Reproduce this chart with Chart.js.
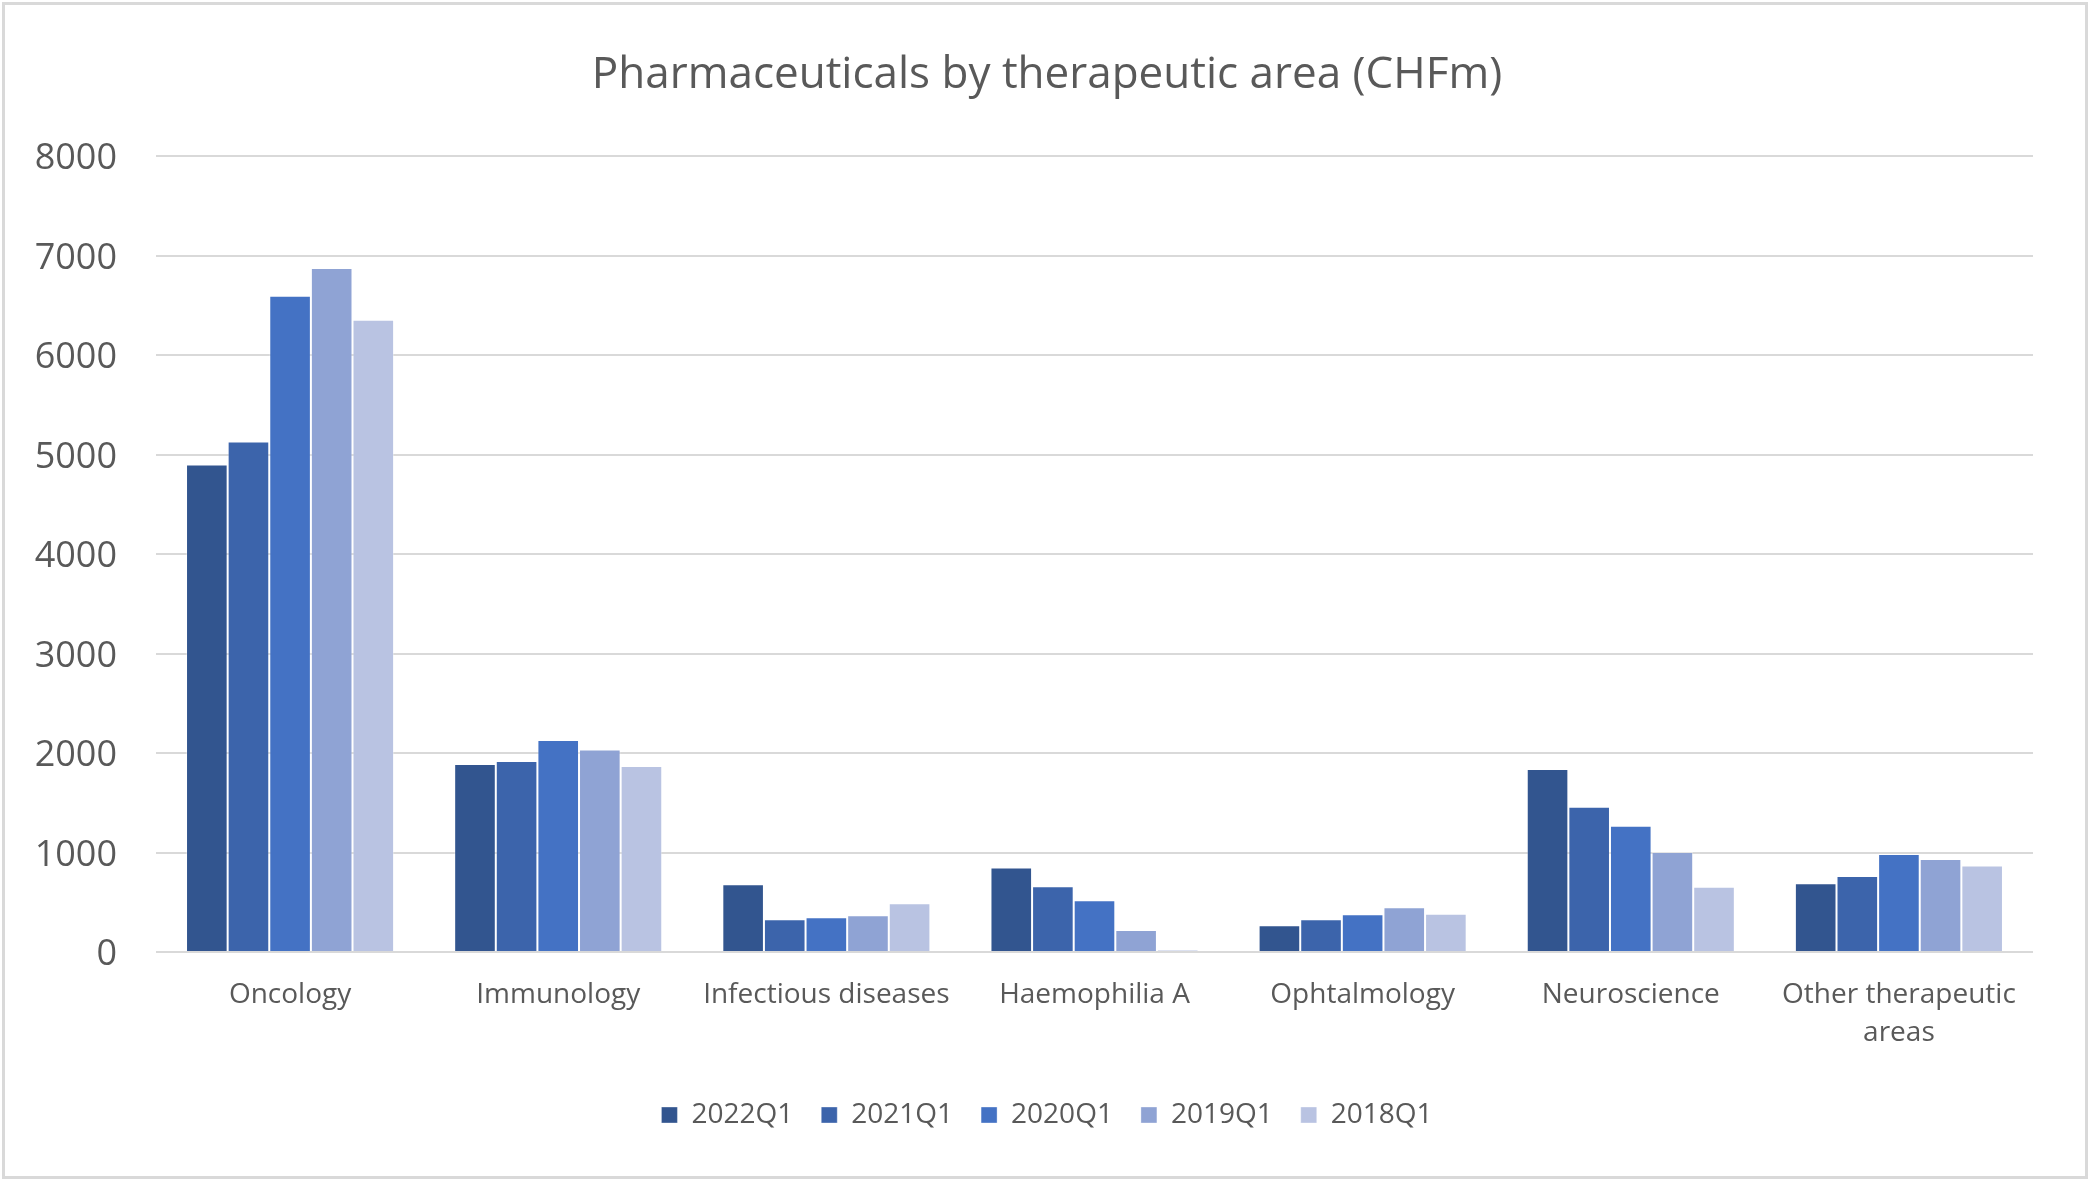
<!DOCTYPE html>
<html>
<head>
<meta charset="utf-8">
<script src="https://cdn.jsdelivr.net/npm/chart.js@4"></script>
<style>
    html, body { margin: 0; padding: 0; background: #fff; }
    #wrap { position: relative; width: 2090px; height: 1182px; }
    #frame {
        position: absolute; left: 2px; top: 2px; width: 2086px; height: 1177px;
        box-sizing: border-box; border: 3px solid #d9d9d9; pointer-events: none;
    }
</style>
</head>
<body>
<div id="wrap">
    <canvas id="chart" width="2090" height="1182"></canvas>
    <div id="frame"></div>
</div>
<script>
'use strict';
// ---------- Data (CHFm) ----------
const areas = ['Oncology', 'Immunology', 'Infectious diseases', 'Haemophilia A',
               'Ophtalmology', 'Neuroscience', ['Other therapeutic', 'areas']];

const q2022 = [4900, 1890, 680, 850, 270, 1840, 690];
const q2021 = [5130, 1920, 330, 660, 330, 1460, 765];
const q2020 = [6595, 2130, 350, 520, 380, 1270, 985];
const q2019 = [6875, 2035, 370, 220, 450, 1005, 935];
const q2018 = [6355, 1870, 490,  20, 385,  655, 870];

const seriesNames  = ['2022Q1', '2021Q1', '2020Q1', '2019Q1', '2018Q1'];
const seriesValues = [q2022, q2021, q2020, q2019, q2018];
const seriesColors = ['#32558f', '#3c64ab', '#4472c4', '#8fa3d4', '#b9c3e2'];

const TEXT = '#595959';
const FONT = '"Open Sans", "Noto Sans", sans-serif';

new Chart(document.getElementById('chart'), {
    type: 'bar',
    data: {
        labels: areas,
        datasets: seriesNames.map((name, i) => ({
            label: name,
            data: seriesValues[i],
            backgroundColor: seriesColors[i],
            borderColor: 'rgba(255,255,255,0.35)',
            borderWidth: 1,
            barPercentage: 1,
            categoryPercentage: 0.776,
            yAxisID: 'y',
        })),
    },
    options: {
        responsive: false,
        animation: false,
        // small left padding + empty right axis: title and legend sit near the original centre
        layout: { padding: { left: 4, right: 0, top: 0, bottom: 43 } },
        plugins: {
            title: {
                display: true,
                text: 'Pharmaceuticals by therapeutic area (CHFm)',
                color: TEXT,
                font: { family: FONT, size: 44, weight: 'normal', lineHeight: 1.2 },
                padding: { top: 49, bottom: 54.2 },
            },
            legend: {
                position: 'bottom',
                labels: {
                    color: TEXT,
                    font: { family: FONT, size: 28 },
                    boxWidth: 16,
                    boxHeight: 16,
                    padding: 28,
                },
            },
            tooltip: { enabled: false },
        },
        scales: {
            x: {
                grid: { display: false },
                border: { display: false },
                ticks: {
                    color: TEXT,
                    font: { family: FONT, size: 28, lineHeight: 1.36 },
                    padding: 16,
                    maxRotation: 0,
                    autoSkip: false,
                },
                afterFit: s => { s.height = 121; },
            },
            y: {
                min: 0,
                max: 8000,
                grid: { color: '#d9d9d9', lineWidth: 2, drawTicks: false },
                border: { display: false },
                ticks: {
                    stepSize: 1000,
                    color: TEXT,
                    font: { family: FONT, size: 36 },
                    padding: 39,
                    labelOffset: 3,
                    callback: v => String(v),
                },
                afterFit: s => { s.width = 152; },
            },
            yRight: {
                position: 'right',
                grid: { display: false },
                border: { display: false },
                ticks: { display: false },
                afterFit: s => { s.width = 57; },
            },
        },
    },
});
</script>
</body>
</html>
